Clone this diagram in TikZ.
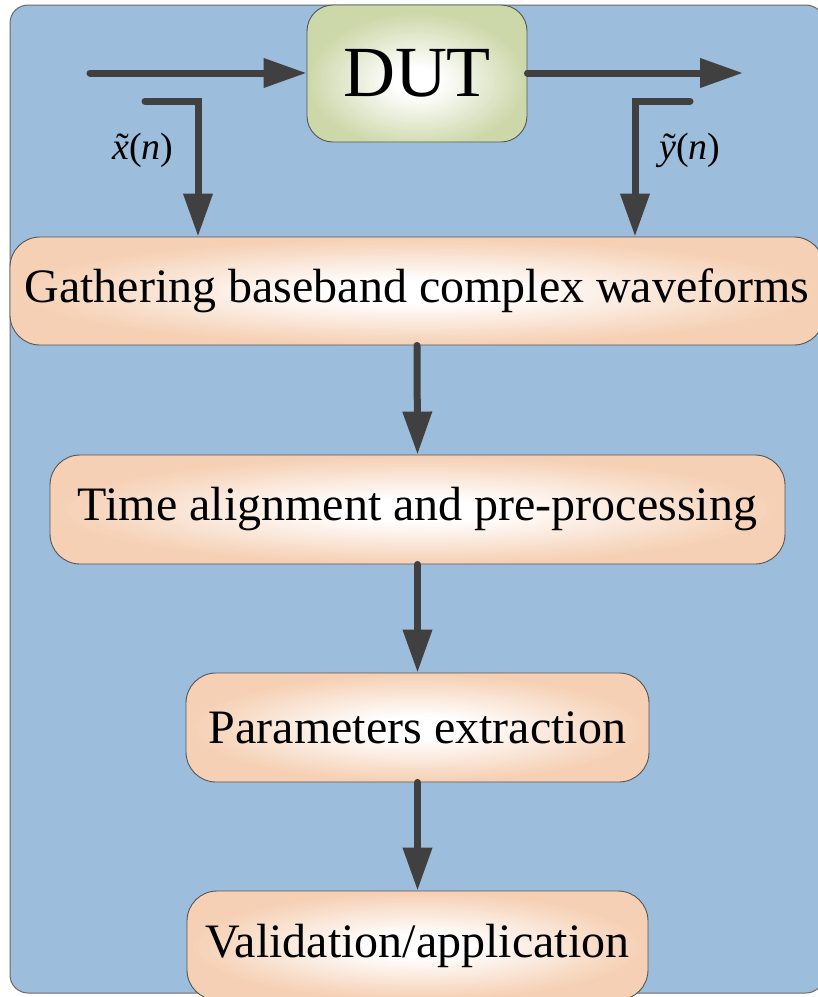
\documentclass[tikz,border=0pt]{standalone}
\usepackage{fontspec}
\setmainfont{Liberation Serif}
\usetikzlibrary{arrows.meta}

\definecolor{panelblue}{RGB}{157,189,220}
\definecolor{paneledge}{RGB}{105,105,105}
\definecolor{peach}{RGB}{245,208,180}
\definecolor{sage}{RGB}{205,216,170}
\definecolor{wire}{RGB}{64,64,64}
\definecolor{boxedge}{RGB}{85,85,85}

% soft elliptical glow: concentric ellipses fading from the edge colour to white
% #1 edge colour, #2 vertical shift of the glow centre, #3 relative size
\newcommand{\glowfill}[3]{%
  \pgfpointdiff{\pgfpointanchor{path picture bounding box}{south west}}%
               {\pgfpointanchor{path picture bounding box}{north east}}%
  \pgfgetlastxy{\glowW}{\glowH}%
  \foreach \k in {0,...,40}{%
    \pgfmathsetmacro{\glowS}{#3*(1-\k/41)}%
    \pgfmathsetmacro{\glowMix}{min(100,125*\k/40)}%
    \fill[white!\glowMix!#1] (path picture bounding box.center) ++(0,#2)
      ellipse ({\glowS*\glowW/2} and {\glowS*\glowH/2});
  }}

% italic letter with a tilde set above it
\newcommand{\tildeletter}[1]{%
  \ooalign{\textit{#1}\cr\hidewidth\kern0.08em\textup{\char"02DC}\hidewidth\cr}}

\tikzset{
  stage/.style={draw=boxedge, line width=0.9pt, rounded corners=30pt,
    fill=peach, path picture={\glowfill{peach}{-1pt}{1.0}},
    inner sep=0pt, align=center, font=\fontsize{48}{52}\selectfont},
  device/.style={draw=boxedge, line width=0.9pt, rounded corners=26pt,
    fill=sage, path picture={\glowfill{sage}{-8pt}{1.0}},
    inner sep=0pt, font=\fontsize{72}{76}\selectfont},
  flow/.style={draw=wire, line width=7pt, line cap=round, line join=miter,
    -{Triangle[length=43pt,width=28pt,fill=wire]}},
  siglabel/.style={font=\fontsize{38}{42}\selectfont, inner sep=0pt}
}

\begin{document}
% units are points; y runs downwards as negative values from the top edge
\begin{tikzpicture}[x=1pt,y=1pt]
  \useasboundingbox (0,0) rectangle (818,-997);

  % backdrop panel
  \begin{scope}
    \clip (0,0) rectangle (818,-997);
    \draw[fill=panelblue, draw=paneledge, line width=1pt, rounded corners=18pt]
      (10,-5) rectangle (824,-993);

    % blocks
    \node[device, minimum width=220pt, minimum height=137pt] (dut) at (417,-73.5) {DUT};
    \node[stage, minimum width=814pt, minimum height=108pt] (gather) at (417,-291)
      {Gathering baseband complex waveforms};
    \node[stage, minimum width=735pt, minimum height=109pt] (align) at (417.5,-509.5)
      {Time alignment and pre-processing};
    \node[stage, minimum width=463pt, minimum height=109pt] (param) at (417.5,-727.5)
      {Parameters extraction};
    \node[stage, minimum width=461pt, minimum height=109pt] (valid) at (417.5,-945.5)
      {Validation/application};
  \end{scope}

  % signal path through the device
  \coordinate (src) at (90,-73);
  \coordinate (sink) at (743,-73);
  \draw[flow] (src) -- (dut.west |- src);
  \draw[flow] (dut.east |- sink) -- (sink);

  % taps feeding the capture stage
  \coordinate (xstart) at (145,-101);
  \coordinate (xbend) at (198,-101);
  \coordinate (ystart) at (690,-101);
  \coordinate (ybend) at (635,-101);
  \draw[flow] (xstart) -- (xbend) -- (xbend |- gather.north);
  \draw[flow] (ystart) -- (ybend) -- (ybend |- gather.north);

  \node[siglabel] (xlab) at (143,-150) {\tildeletter{x}(\textit{n})};
  \node[siglabel] (ylab) at (690,-150) {\tildeletter{y}(\textit{n})};

  % processing chain
  \draw[flow] (gather.south) -- (align.north);
  \draw[flow] (align.south) -- (param.north);
  \draw[flow] (param.south) -- (valid.north);
\end{tikzpicture}
\end{document}
